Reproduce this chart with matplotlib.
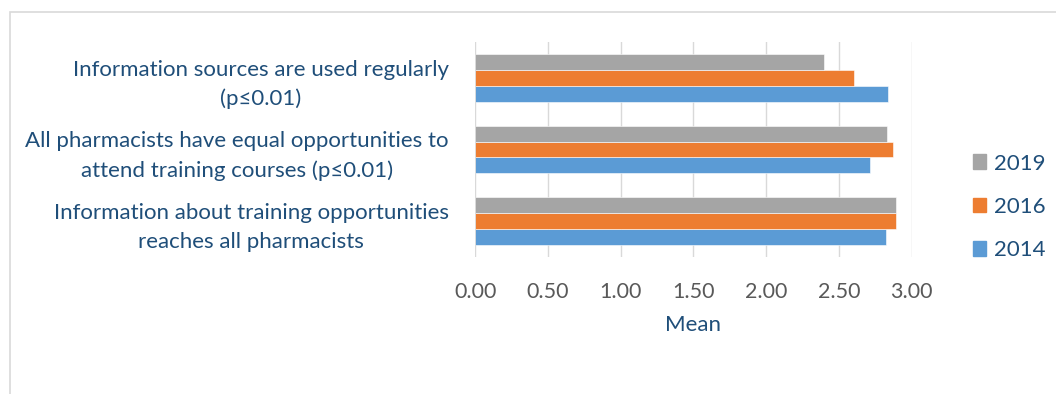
import matplotlib.pyplot as plt
import matplotlib.patches as mpatches
import numpy as np

# data (bottom category first, as in the original)
categories = [
    "Information about training opportunities\nreaches all pharmacists",
    "All pharmacists have equal opportunities to\nattend training courses (p\u22640.01)",
    "Information sources are used regularly\n(p\u22640.01)",
]
years = ["2014", "2016", "2019"]
vals_2014 = [2.82, 2.71, 2.84]
vals_2016 = [2.89, 2.87, 2.60]
vals_2019 = [2.89, 2.83, 2.40]
colors = ["#5B9BD5", "#ED7D31", "#A5A5A5"]

TXT = "#1F4E79"
TICK = "#595959"
GRID = "#D9D9D9"

plt.rcParams['font.family'] = ['Lato', 'DejaVu Sans']

fig = plt.figure(figsize=(10.56, 3.94), dpi=100)
ax = fig.add_axes([0.450, 0.3477, 0.4134, 0.5457])

y = np.arange(len(categories))
h = 0.223
series = [vals_2014, vals_2016, vals_2019]
for k, (vals, col) in enumerate(zip(series, colors)):
    ax.barh(y + (k - 1) * h, vals, height=h, color=col, zorder=3,
            edgecolor="white", linewidth=0.4)

ax.set_xlim(0, 3.0)
ax.set_ylim(-0.5, 2.5)
ticks = np.arange(0, 3.01, 0.5)
ax.set_xticks(ticks)
ax.set_xticklabels([f"{t:.2f}" for t in ticks])
ax.tick_params(axis='x', length=0, pad=18, labelsize=15.5, labelcolor=TICK)
ax.set_yticks(y)
ax.set_yticklabels(categories, fontsize=16, color=TXT, multialignment='center',
                   linespacing=1.55)
ax.tick_params(axis='y', length=0, pad=19)
ax.grid(axis='x', color=GRID, linewidth=1.0, zorder=0)
ax.axvline(0, color=GRID, linewidth=1.2, zorder=4)
for s in ax.spines.values():
    s.set_visible(False)
ax.set_xlabel("Mean", fontsize=16, color=TXT, labelpad=9)

# legend, newest year on top
handles = [mpatches.Patch(color=colors[i]) for i in (2, 1, 0)]
labels = [years[i] for i in (2, 1, 0)]
fig.legend(handles, labels, loc='center left', bbox_to_anchor=(0.902, 0.475),
           frameon=False, fontsize=16, labelcolor=TXT, handlelength=0.62,
           handleheight=0.62, handletextpad=0.35, labelspacing=1.05)

# chart border (continues off the bottom and right)
fig.add_artist(mpatches.Rectangle((10 / 1056, -0.1), 1.2, 1 - 12 / 394 + 0.1,
                                  transform=fig.transFigure, fill=False,
                                  edgecolor=GRID, linewidth=1.2))

fig.savefig("out.png", dpi=100, facecolor="white")
